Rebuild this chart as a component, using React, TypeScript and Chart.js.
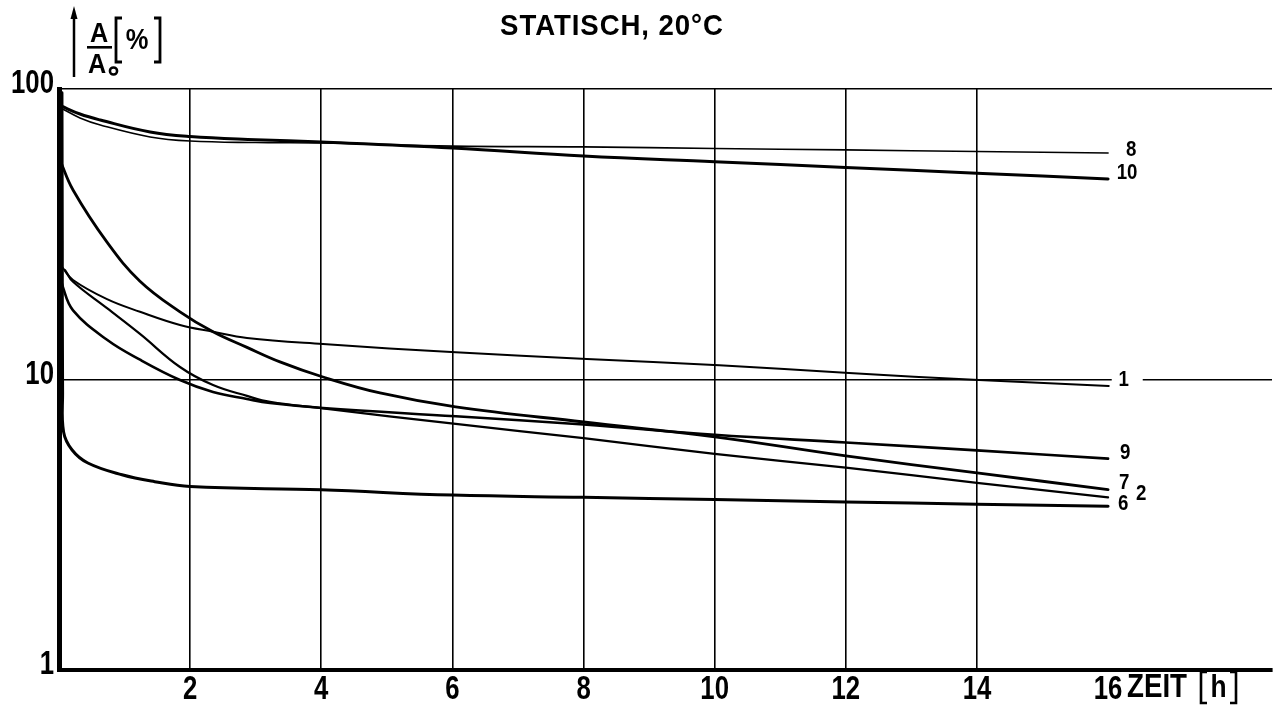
import React, { useEffect, useRef } from "react";
import { Chart, registerables } from "chart.js";

Chart.register(...registerables);

// ---------- data ----------
const TITLE = "STATISCH, 20°C";
const X_TITLE = "ZEIT";
const X_UNIT = "h";
const Y_TICKS = [1, 10, 100];
const X_TICKS = [2, 4, 6, 8, 10, 12, 14, 16];
const X_GRID = [2, 4, 6, 8, 10, 12, 14];
const X_MAX = 18.5;

const c8X = [0.03, 0.32, 0.63, 1.39, 2, 3, 4, 6, 8, 10, 12, 14, 16];
const c8Y = [86, 79.5, 75.2, 68.4, 66.2, 65.4, 65.2, 63.6, 63.2, 62.4, 61.7, 60.9, 60.2];

const c10X = [0.03, 0.32, 0.63, 1.39, 2, 3, 4, 6, 8, 10, 12, 14, 16];
const c10Y = [87.4, 82, 78.2, 71.1, 68.6, 66.9, 65.7, 62.7, 58.8, 56.2, 53.7, 51.3, 49.0];

const c1X = [0.046, 0.214, 0.732, 1.235, 1.845, 2.349, 2.867, 4.026, 6.05, 8.05, 10.07, 12.05, 14.03, 16.01];
const c1Y = [24.4, 22.0, 18.9, 17.1, 15.4, 14.6, 13.9, 13.25, 12.4, 11.77, 11.2, 10.53, 9.96, 9.5];

const c7X = [0.015, 0.214, 0.732, 1.235, 1.845, 2.349, 2.867, 3.37, 4.026, 4.895, 6.05, 8, 10, 12, 14, 16];
const c7Y = [56.9, 44.9, 29.7, 21.8, 17.1, 14.6, 12.9, 11.5, 10.2, 8.99, 8.05, 7.14, 6.35, 5.46, 4.77, 4.18];

const c9X = [0.01, 0.06, 0.214, 0.732, 1.235, 1.845, 2.349, 2.867, 3.218, 4.026, 6.05, 8, 10, 12, 14, 16];
const c9Y = [23.5, 20.8, 17.3, 13.7, 11.7, 9.96, 9.06, 8.57, 8.3, 7.98, 7.47, 7.0, 6.45, 6.07, 5.7, 5.34];

const c2X = [0.092, 0.214, 0.732, 1.235, 1.845, 2.349, 2.867, 3.218, 4.026, 6.05, 8, 10, 12, 14, 16];
const c2Y = [23.8, 21.7, 17.6, 14.35, 11.04, 9.57, 8.78, 8.37, 7.95, 7.03, 6.28, 5.55, 4.97, 4.41, 3.93];

const c6X = [0.045, 0.05, 0.055, 0.07, 0.2, 0.44, 0.96, 1.46, 2, 4, 6, 8, 10, 12, 14, 16];
const c6Y = [97, 30, 9, 6.6, 5.72, 5.16, 4.7, 4.45, 4.28, 4.17, 4.0, 3.93, 3.86, 3.79, 3.72, 3.66];

const SERIES = [
  { label: "8", xs: c8X, ys: c8Y },
  { label: "10", xs: c10X, ys: c10Y },
  { label: "1", xs: c1X, ys: c1Y },
  { label: "7", xs: c7X, ys: c7Y },
  { label: "9", xs: c9X, ys: c9Y },
  { label: "2", xs: c2X, ys: c2Y },
  { label: "6", xs: c6X, ys: c6Y },
];

// ---------- styles ----------
const LINE_WIDTH: Record<string, number> = { "8": 1.6, "10": 3, "1": 2, "7": 2.8, "9": 2.6, "2": 2.2, "6": 3 };
const LABEL_OFFSET: Record<string, [number, number]> = {
  "8": [23, -3],
  "10": [19, -6],
  "1": [15, -6],
  "9": [17, -6],
  "7": [16, -7],
  "2": [33, -3],
  "6": [15, -2],
};
const FONT = '"Liberation Sans", Arial, sans-serif';

function drawText(
  ctx: CanvasRenderingContext2D,
  text: string,
  x: number,
  y: number,
  size: number,
  align: CanvasTextAlign,
  sx: number
) {
  ctx.save();
  ctx.font = `bold ${size}px ${FONT}`;
  ctx.textAlign = align;
  ctx.textBaseline = "middle";
  ctx.translate(x, y);
  ctx.scale(sx, 1);
  ctx.fillText(text, 0, 0);
  ctx.restore();
}

const textPlugin = {
  id: "textPlugin",
  afterDraw(chart: any) {
    const ctx = chart.ctx as CanvasRenderingContext2D;
    const xs = chart.scales.x;
    const ys = chart.scales.y;
    ctx.save();
    ctx.fillStyle = "#000";
    ctx.strokeStyle = "#000";

    // title
    ctx.save();
    (ctx as any).letterSpacing = "1px";
    drawText(ctx, TITLE, 612, 27, 30, "center", 0.92);
    ctx.restore();

    // y tick labels
    for (const v of Y_TICKS) {
      drawText(ctx, String(v), 54, ys.getPixelForValue(v) - 5, 33, "right", 0.78);
    }
    // x tick labels
    for (const v of X_TICKS) {
      drawText(ctx, String(v), xs.getPixelForValue(v), 690, 33, "center", 0.78);
    }
    // x title
    drawText(ctx, X_TITLE, 1127, 688, 33, "left", 0.84);
    ctx.lineWidth = 2.6;
    ctx.beginPath();
    ctx.moveTo(1207, 672); ctx.lineTo(1201, 672); ctx.lineTo(1201, 703); ctx.lineTo(1207, 703);
    ctx.moveTo(1230, 672); ctx.lineTo(1236, 672); ctx.lineTo(1236, 703); ctx.lineTo(1230, 703);
    ctx.stroke();
    drawText(ctx, X_UNIT, 1218.5, 688, 31, "center", 0.85);

    // y title: arrow + A/A0 [%]
    ctx.lineWidth = 2.5;
    ctx.beginPath();
    ctx.moveTo(74, 77); ctx.lineTo(74, 16);
    ctx.stroke();
    ctx.beginPath();
    ctx.moveTo(74, 6); ctx.lineTo(70.5, 19); ctx.lineTo(77.5, 19); ctx.closePath();
    ctx.fill();
    drawText(ctx, "A", 99, 34, 28, "center", 0.9);
    ctx.fillRect(87, 46, 25, 2.6);
    drawText(ctx, "A", 97, 65, 28, "center", 0.9);
    ctx.beginPath();
    ctx.arc(113.5, 71, 3.6, 0, Math.PI * 2);
    ctx.stroke();
    ctx.lineWidth = 2.8;
    ctx.beginPath();
    ctx.moveTo(122, 18); ctx.lineTo(116, 18); ctx.lineTo(116, 62); ctx.lineTo(122, 62);
    ctx.moveTo(154, 18); ctx.lineTo(160, 18); ctx.lineTo(160, 62); ctx.lineTo(154, 62);
    ctx.stroke();
    drawText(ctx, "%", 137, 41, 30, "center", 0.85);

    // end labels
    for (const s of SERIES) {
      const n = s.xs.length - 1;
      const px = xs.getPixelForValue(s.xs[n]);
      const py = ys.getPixelForValue(s.ys[n]);
      const [dx, dy] = LABEL_OFFSET[s.label];
      if (s.label === "1") {
        const gy = ys.getPixelForValue(10);
        ctx.fillStyle = "#fff";
        ctx.fillRect(px + 3, gy - 3, 31, 6);
        ctx.fillStyle = "#000";
      }
      drawText(ctx, s.label, px + dx, py + dy, 22, "center", 0.85);
    }
    ctx.restore();
  },
};

export default function App() {
  const ref = useRef<HTMLCanvasElement | null>(null);
  useEffect(() => {
    if (!ref.current) return;
    const chart = new Chart(ref.current, {
      type: "line",
      data: {
        datasets: SERIES.map((s) => ({
          label: s.label,
          data: s.xs.map((x, i) => ({ x, y: s.ys[i] })),
          borderColor: "#000",
          borderWidth: LINE_WIDTH[s.label],
          pointRadius: 0,
          fill: false,
          tension: 0.4,
          borderCapStyle: "round" as const,
          borderJoinStyle: "round" as const,
        })),
      },
      options: {
        animation: false,
        responsive: false,
        layout: { padding: { top: 89, right: 3, left: 0, bottom: 0 } },
        plugins: { legend: { display: false }, tooltip: { enabled: false }, title: { display: false } },
        scales: {
          x: {
            type: "linear",
            min: 0,
            max: X_MAX,
            ticks: { display: false, stepSize: 2 },
            afterBuildTicks: (scale: any) => {
              scale.ticks = X_GRID.map((v) => ({ value: v }));
            },
            afterFit: (scale: any) => {
              scale.height = 36;
            },
            grid: { color: "#000", lineWidth: 1.6, drawTicks: false },
            border: { display: true, color: "#000", width: 4 },
          },
          y: {
            type: "logarithmic",
            min: 1,
            max: 100,
            ticks: { display: false },
            afterBuildTicks: (scale: any) => {
              scale.ticks = Y_TICKS.map((v) => ({ value: v }));
            },
            afterFit: (scale: any) => {
              scale.width = 59;
            },
            grid: { color: "#000", lineWidth: 1.6, drawTicks: false },
            border: { display: true, color: "#000", width: 5 },
          },
        },
      },
      plugins: [textPlugin],
    });
    return () => chart.destroy();
  }, []);
  return (
    <div style={{ position: "fixed", left: 0, top: 0, width: 1275, height: 706, background: "#fff" }}>
      <canvas ref={ref} width={1275} height={706} style={{ display: "block" }} />
    </div>
  );
}
